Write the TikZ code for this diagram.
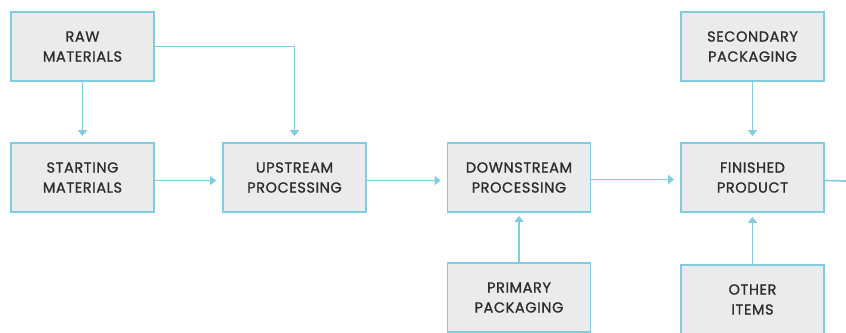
\documentclass[tikz,border=0pt]{standalone}
\usepackage{fontspec}
\setmainfont{Poppins}[FakeBold=1.2,LetterSpace=4]
\usetikzlibrary{arrows.meta}
\definecolor{edgeblue}{HTML}{82CCE0}
\definecolor{boxfill}{HTML}{EBEBEB}
\definecolor{txt}{HTML}{2E2E2E}
\tikzset{
  procbox/.style={draw=edgeblue, line width=1.8pt, fill=boxfill, minimum width=143pt, minimum height=69pt, inner sep=0pt, align=center, text=txt, font=\fontsize{14.5}{20}\selectfont},
  flow/.style={draw=edgeblue, line width=1.7pt, -{Triangle[length=6pt,width=9pt]}, shorten >=6pt},
  flowend/.style={draw=edgeblue, line width=1.7pt}
}
\begin{document}
\begin{tikzpicture}[x=1pt,y=-1pt]
\useasboundingbox (0,0) rectangle (846,332);
\node[procbox] (raw) at (82.5,46.5) {RAW\\MATERIALS};
\node[procbox] (start) at (82.5,177.5) {STARTING\\MATERIALS};
\node[procbox] (up) at (294.5,177.5) {UPSTREAM\\PROCESSING};
\node[procbox] (down) at (519,177.5) {DOWNSTREAM\\PROCESSING};
\node[procbox] (prim) at (519,297.5) {PRIMARY\\PACKAGING};
\node[procbox] (sec) at (752.5,46.5) {SECONDARY\\PACKAGING};
\node[procbox] (fin) at (752.5,177.5) {FINISHED\\PRODUCT};
\node[procbox] (oth) at (752.5,299.5) {OTHER\\ITEMS};
\coordinate (out) at (848,181);
\draw[flow] (raw.south) -- (start.north);
\draw[flow] (raw.east) -| (up.north);
\draw[flow] ([yshift=-3pt]start.east) -- ([yshift=-3pt]up.west);
\draw[flow] ([yshift=-3pt]up.east) -- ([yshift=-3pt]down.west);
\draw[flow] ([yshift=-2pt]down.east) -- ([yshift=-2pt]fin.west);
\draw[flow,shorten >=3pt] (prim.north) -- (down.south);
\draw[flow,shorten >=4pt] (oth.north) -- (fin.south);
\draw[flow] (sec.south) -- (fin.north);
\draw[flowend] ([yshift=-3pt]fin.east) -- (out);
\end{tikzpicture}
\end{document}
